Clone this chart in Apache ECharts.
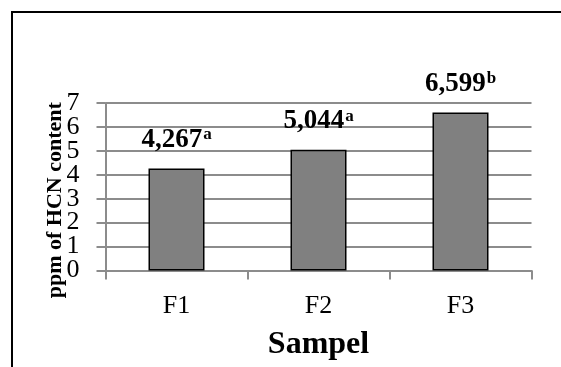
<!DOCTYPE html>
<html>
<head>
<meta charset="utf-8">
<script src="https://cdn.jsdelivr.net/npm/echarts@6/dist/echarts.min.js"></script>
<style>
html,body{margin:0;padding:0;background:#fff;}
#chart{width:561px;height:367px;}
</style>
</head>
<body>
<div id="chart"></div>
<script>
const categories = ['F1', 'F2', 'F3'];
const values = [4.267, 5.044, 6.599];
const valueTexts = ['4,267', '5,044', '6,599'];
const superscripts = ['a', 'a', 'b'];
const yTicks = ['0', '1', '2', '3', '4', '5', '6', '7'];

const FONT = 'Liberation Serif';
const chart = echarts.init(document.getElementById('chart'), null, {renderer: 'canvas'});
chart.setOption({
  animation: false,
  backgroundColor: '#fff',
  graphic: [{
    type: 'rect',
    shape: {x: 12, y: 12, width: 620, height: 420},
    style: {fill: 'none', stroke: '#000', lineWidth: 2},
    silent: true
  }],
  grid: {left: 105.5, right: 29.5, top: 103, bottom: 96.5, containLabel: false},
  xAxis: {
    type: 'category',
    data: categories,
    name: 'Sampel',
    nameLocation: 'middle',
    nameGap: 58,
    nameMoveOverlap: false,
    nameTextStyle: {fontFamily: FONT, fontWeight: 'bold', fontSize: 32, color: '#000'},
    axisLine: {show: true, lineStyle: {color: '#8c8c8c', width: 2}},
    axisTick: {show: true, length: 9, alignWithLabel: false, lineStyle: {color: '#8c8c8c', width: 2}},
    axisLabel: {fontFamily: FONT, fontSize: 26, color: '#000', margin: 23}
  },
  yAxis: [{
    type: 'value',
    position: 'left',
    min: Number(yTicks[0]),
    max: Number(yTicks[yTicks.length - 1]),
    interval: 1,
    name: 'ppm of HCN content',
    nameLocation: 'middle',
    nameGap: 39,
    nameMoveOverlap: false,
    nameRotate: 90,
    nameTextStyle: {fontFamily: FONT, fontWeight: 'bold', fontSize: 22, color: '#000', padding: [0, 27, 0, 0]},
    axisLine: {show: true, lineStyle: {color: '#8c8c8c', width: 2}},
    axisTick: {show: true, length: 9, lineStyle: {color: '#8c8c8c', width: 2}},
    axisLabel: {show: false},
    splitLine: {show: true, lineStyle: {color: '#8c8c8c', width: 2}}
  }, {
    type: 'category',
    position: 'left',
    offset: 0,
    data: yTicks,
    boundaryGap: false,
    nameMoveOverlap: false,
    axisLine: {show: false},
    axisTick: {show: false},
    splitLine: {show: false},
    axisLabel: {show: true, interval: 0, fontFamily: FONT, fontSize: 26, color: '#000', margin: 26}
  }],
  series: [{
    type: 'bar',
    yAxisIndex: 0,
    data: values,
    barWidth: 56,
    itemStyle: {color: '#808080', borderColor: '#000', borderWidth: 1.5},
    label: {
      show: true,
      position: 'top',
      distance: 15,
      formatter: function (p) {
        return '{v|' + valueTexts[p.dataIndex] + '}{s|' + superscripts[p.dataIndex] + '}';
      },
      rich: {
        v: {fontFamily: FONT, fontWeight: 'bold', fontSize: 27, color: '#000'},
        s: {fontFamily: FONT, fontWeight: 'bold', fontSize: 17, color: '#000', padding: [0, 0, 10, 1]}
      }
    }
  }]
});
</script>
</body>
</html>
